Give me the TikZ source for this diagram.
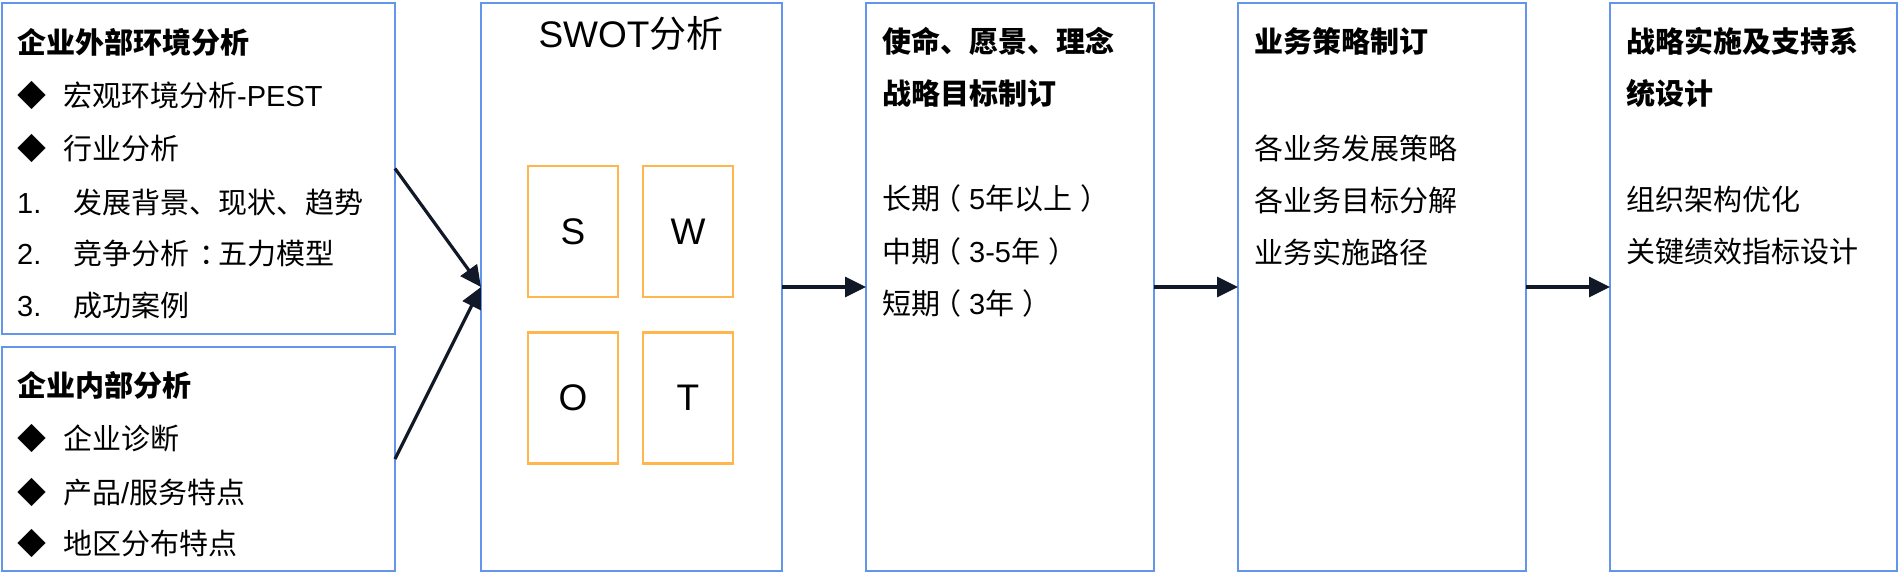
\documentclass[tikz,border=0pt]{standalone}
\usepackage{fontspec}
\setmainfont{Noto Sans CJK SC}
\newfontfamily\latfont{Liberation Sans}
\newcommand\lat[1]{{\latfont #1}}
\newcommand\lpar{\makebox[29pt][l]{\hspace*{-8pt}（}}
\newcommand\rpar{\makebox[29pt][l]{\hspace*{8pt}）}}
\newcommand\ccolon{\makebox[29pt][l]{\hspace*{10pt}：}}
\usetikzlibrary{arrows.meta}
\definecolor{boxblue}{RGB}{100,149,237}
\definecolor{sqorange}{RGB}{255,183,77}
\definecolor{arrowc}{RGB}{17,24,39}
\begin{document}
\begin{tikzpicture}[x=1pt,y=-1pt,
  box/.style={draw=boxblue, line width=2.2pt, anchor=north west, inner sep=0pt, outer sep=0pt},
  sq/.style={draw=sqorange, line width=2.8pt, minimum width=90pt, minimum height=131pt, inner sep=0pt, font=\fontsize{37}{40}\latfont},
  txt/.style={anchor=west, inner sep=0pt, font=\fontsize{29}{32}\selectfont, text height=25.5pt, text depth=3.5pt},
  ttl/.style={txt, font=\fontsize{29}{32}\selectfont\bfseries},
  arr/.style={draw=arrowc, line width=3.2pt, -{Triangle[length=21pt,width=20pt]}},
]
\useasboundingbox (0,0) rectangle (1900,574);
% boxes
\node[box, minimum width=393pt, minimum height=331pt] (ext) at (2,3) {};
\node[box, minimum width=393pt, minimum height=224pt] (int) at (2,347) {};
\node[box, minimum width=301pt, minimum height=568pt] (swot) at (481,3) {};
\node[box, minimum width=288pt, minimum height=568pt] (goal) at (866,3) {};
\node[box, minimum width=288pt, minimum height=568pt] (biz) at (1238,3) {};
\node[box, minimum width=287pt, minimum height=568pt] (impl) at (1610,3) {};
% external analysis
\node[ttl] (e0) at (17,42) {企业外部环境分析};
\node[txt] (e1) at (17,95) {\makebox[46pt][l]{◆}宏观环境分析\lat{-PEST}};
\node[txt] (e2) at (17,148) {\makebox[46pt][l]{◆}行业分析};
\node[txt] (e3) at (17,202) {\makebox[56pt][l]{\lat{1.}}发展背景、现状、趋势};
\node[txt] (e4) at (17,253) {\makebox[56pt][l]{\lat{2.}}竞争分析\ccolon 五力模型};
\node[txt] (e5) at (17,305) {\makebox[56pt][l]{\lat{3.}}成功案例};
% internal analysis
\node[ttl] (i0) at (17,385) {企业内部分析};
\node[txt] (i1) at (17,438) {\makebox[46pt][l]{◆}企业诊断};
\node[txt] (i2) at (17,492) {\makebox[46pt][l]{◆}产品\lat{/}服务特点};
\node[txt] (i3) at (17,543) {\makebox[46pt][l]{◆}地区分布特点};
% SWOT
\node[font=\fontsize{37}{40}\selectfont, inner sep=0pt] (st) at (631,33) {\lat{SWOT}分析};
\node[sq] (s) at (573,231.5) {S};
\node[sq] (w) at (688,231.5) {W};
\node[sq] (o) at (573,398) {O};
\node[sq] (t) at (688,398) {T};
% goals
\node[ttl] (g0) at (882,41) {使命、愿景、理念};
\node[ttl] (g1) at (882,93) {战略目标制订};
\node[txt] (g2) at (882,198) {长期\lpar\lat{5}年以上\rpar};
\node[txt] (g3) at (882,251) {中期\lpar\lat{3-5}年\rpar};
\node[txt] (g4) at (882,303) {短期\lpar\lat{3}年\rpar};
% business
\node[ttl] (b0) at (1254,41) {业务策略制订};
\node[txt] (b1) at (1254,148) {各业务发展策略};
\node[txt] (b2) at (1254,200) {各业务目标分解};
\node[txt] (b3) at (1254,252) {业务实施路径};
% implementation
\node[ttl] (m0) at (1626,41) {战略实施及支持系};
\node[ttl] (m1) at (1626,93) {统设计};
\node[txt] (m2) at (1626,199) {组织架构优化};
\node[txt] (m3) at (1626,251) {关键绩效指标设计};
% arrows
\draw[arr] (ext.east) -- (swot.west);
\draw[arr] (int.east) -- (swot.west);
\draw[arr] (swot.east) -- (goal.west);
\draw[arr] (goal.east) -- (biz.west);
\draw[arr] (biz.east) -- (impl.west);
\end{tikzpicture}
\end{document}
